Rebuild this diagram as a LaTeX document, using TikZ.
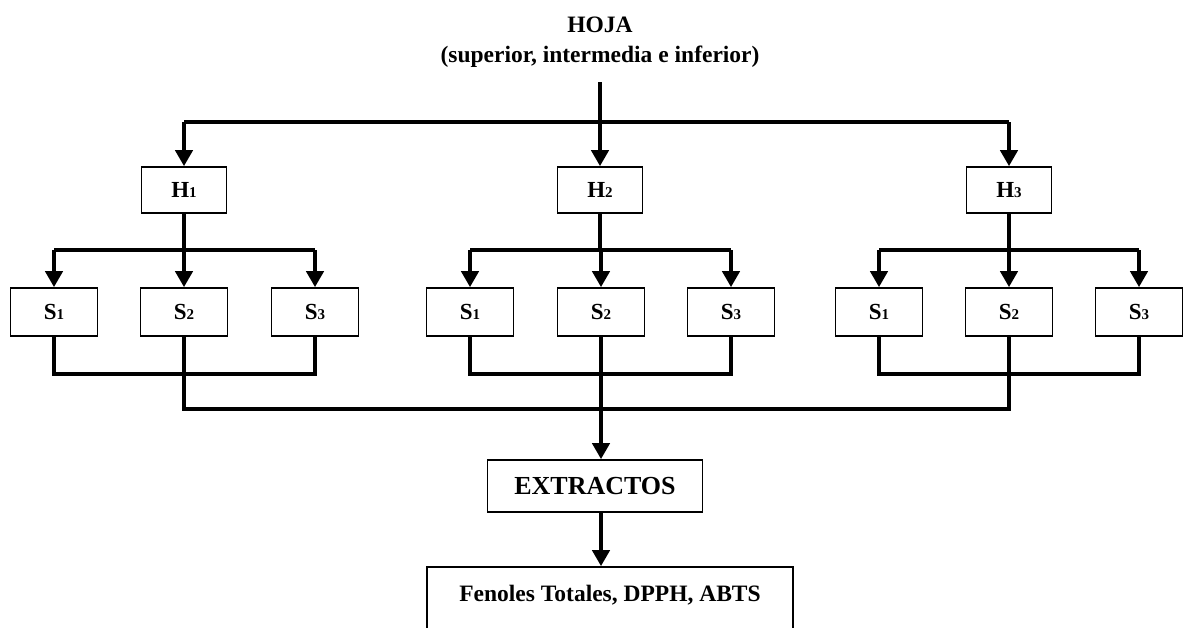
\documentclass[tikz,border=0pt]{standalone}
\usepackage{fontspec}
\setmainfont{Liberation Serif}
\usetikzlibrary{arrows.meta}

\newcommand{\idx}[1]{\raisebox{-0.5pt}{\fontsize{15}{15}\selectfont #1}}

\begin{document}
\begin{tikzpicture}[x=1pt,y=-1pt,
        conn/.style={line width=4pt},
        arrow/.style={line width=4pt,-{Triangle[width=17pt,length=16pt]}},
        hbox/.style={draw,line width=1.6pt,minimum width=85pt,minimum height=46pt,font=\fontsize{23}{26}\bfseries},
        sbox/.style={draw,line width=1.6pt,minimum width=87pt,minimum height=48pt,font=\fontsize{23}{26}\bfseries}]
    \useasboundingbox (0,0) rectangle (1183,627);
    \clip (0,0) rectangle (1183,627);

    \node[align=center,font=\fontsize{23.5}{30}\bfseries] (hoja) at (600,42)
        {HOJA\\(superior, intermedia e inferior)};
    \coordinate (top) at (600,82);
    \coordinate (r0) at (600,122);

    % hojas
    \node[hbox] (H1) at (184,190) {H\idx{1}};
    \node[hbox] (H2) at (600,190) {H\idx{2}};
    \node[hbox] (H3) at (1009,190) {H\idx{3}};

    \draw[conn] (H1 |- r0) -- (H3 |- r0);
    \draw[arrow] (H1 |- r0) -- (H1);
    \draw[arrow] (top) -- (H2);
    \draw[arrow] (H3 |- r0) -- (H3);

    % muestras
    \node[sbox] (S11) at (54,312) {S\idx{1}};
    \node[sbox] (S12) at (184,312) {S\idx{2}};
    \node[sbox] (S13) at (315,312) {S\idx{3}};
    \node[sbox] (S21) at (470,312) {S\idx{1}};
    \node[sbox] (S22) at (601,312) {S\idx{2}};
    \node[sbox] (S23) at (731,312) {S\idx{3}};
    \node[sbox] (S31) at (879,312) {S\idx{1}};
    \node[sbox] (S32) at (1009,312) {S\idx{2}};
    \node[sbox] (S33) at (1139,312) {S\idx{3}};

    \coordinate (r1) at (0,250);
    \coordinate (j1) at (0,374);
    \coordinate (m) at (0,409);

    \draw[conn] (H1) -- (H1 |- r1);
    \draw[conn] (S11 |- r1) -- (S13 |- r1);
    \draw[arrow] (S11 |- r1) -- (S11);
    \draw[arrow] (S12 |- r1) -- (S12);
    \draw[arrow] (S13 |- r1) -- (S13);

    \draw[conn] (H2) -- (H2 |- r1);
    \draw[conn] (S21 |- r1) -- (S23 |- r1);
    \draw[arrow] (S21 |- r1) -- (S21);
    \draw[arrow] (S22 |- r1) -- (S22);
    \draw[arrow] (S23 |- r1) -- (S23);

    \draw[conn] (H3) -- (H3 |- r1);
    \draw[conn] (S31 |- r1) -- (S33 |- r1);
    \draw[arrow] (S31 |- r1) -- (S31);
    \draw[arrow] (S32 |- r1) -- (S32);
    \draw[arrow] (S33 |- r1) -- (S33);

    % uniones
    \draw[conn] (S11) -- (S11 |- j1) -- (S13 |- j1) -- (S13);
    \draw[conn] (S21) -- (S21 |- j1) -- (S23 |- j1) -- (S23);
    \draw[conn] (S31) -- (S31 |- j1) -- (S33 |- j1) -- (S33);
    \draw[conn] (S12) -- (S12 |- m) -- (S32 |- m) -- (S32);

    \node[draw,line width=1.6pt,minimum width=215pt,minimum height=52pt,font=\fontsize{26}{30}\bfseries] (ext) at (595,486) {EXTRACTOS};
    \draw[arrow] (S22) -- (S22 |- ext.north);

    \node[draw,line width=1.6pt,anchor=base,minimum width=366pt,text height=16pt,text depth=50pt,inner ysep=18pt,font=\fontsize{23.5}{28}\bfseries] (res) at (610,601) {Fenoles Totales, DPPH, ABTS};
    \draw[arrow] (ext.south -| S22) -- (res.north -| S22);

\end{tikzpicture}
\end{document}
